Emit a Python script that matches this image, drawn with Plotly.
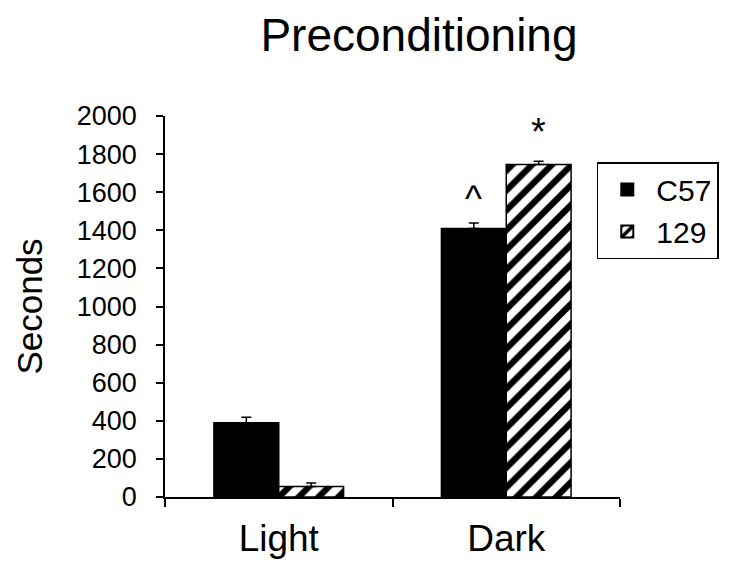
import plotly.graph_objects as go

categories = ["Light", "Dark"]
c57_values = [390, 1410]
c57_errors = [28, 28]
s129_values = [55, 1745]
s129_errors = [18, 17]
y_ticks = [0, 200, 400, 600, 800, 1000, 1200, 1400, 1600, 1800, 2000]

FONT = "Liberation Sans"
bargap = 0.43
half = (1 - bargap) / 4

fig = go.Figure()
fig.add_trace(go.Bar(
    name="C57", x=categories, y=c57_values,
    marker=dict(color="black", line=dict(color="black", width=1.5)),
    error_y=dict(type="data", array=c57_errors, arrayminus=[0, 0], color="black", thickness=1.5, width=5),
))
fig.add_trace(go.Bar(
    name="129", x=categories, y=s129_values,
    marker=dict(color="white", line=dict(color="black", width=1.5),
                pattern=dict(shape="/", fgcolor="black", bgcolor="white", fgopacity=1,
                             size=14, solidity=0.45)),
    error_y=dict(type="data", array=s129_errors, arrayminus=[0, 0], color="black", thickness=1.5, width=5),
))

fig.add_annotation(x=1 - half, y=c57_values[1] + c57_errors[1], text="^", showarrow=False,
                   yanchor="bottom", yshift=2, font=dict(family=FONT, size=36, color="black"))
fig.add_annotation(x=1 + half, y=s129_values[1] + s129_errors[1], text="*", showarrow=False,
                   yanchor="bottom", yshift=6, font=dict(family=FONT, size=38, color="black"))

fig.update_layout(
    width=744, height=563,
    margin=dict(l=157, r=132, t=108, b=74),
    paper_bgcolor="white", plot_bgcolor="white",
    barmode="group", bargap=bargap, bargroupgap=0,
    title=dict(text="Preconditioning", x=0.5524, xanchor="center", y=0.952, yanchor="middle",
               font=dict(family=FONT, size=46, color="black")),
    font=dict(family=FONT, color="black"),
    showlegend=True,
    legend=dict(x=0.949, xanchor="left", y=0.879, yanchor="top",
                bordercolor="black", borderwidth=1.5, bgcolor="white",
                font=dict(family=FONT, size=30, color="black"),
                itemsizing="constant", tracegroupgap=0, itemwidth=48,
                entrywidth=200, entrywidthmode="pixels"),
    xaxis=dict(
        type="category", range=[-0.5, 1.5], showline=True, linecolor="black", linewidth=1.5,
        ticks="outside", tickson="boundaries", ticklen=8, tickcolor="black", tickwidth=1.5,
        tickfont=dict(family=FONT, size=37, color="black"), showgrid=False, zeroline=False,
        ticklabelstandoff=8,
    ),
    yaxis=dict(
        range=[0, 2000], tickvals=y_ticks, showline=True, linecolor="black", linewidth=1.5,
        ticks="outside", ticklen=7, tickcolor="black", tickwidth=1.5,
        tickfont=dict(family=FONT, size=27, color="black"), showgrid=False, zeroline=False,
        ticklabelstandoff=14,
        title=dict(text="Seconds", font=dict(family=FONT, size=35, color="black"), standoff=24),
    ),
)

fig.write_html("out.html")
